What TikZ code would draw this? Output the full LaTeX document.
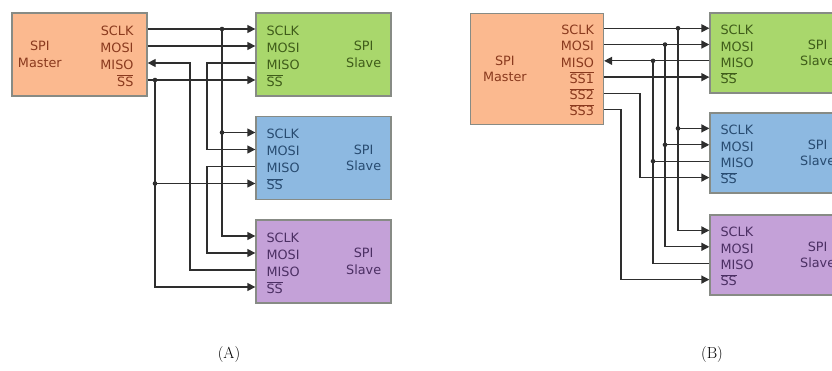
\documentclass[tikz,border=0pt]{standalone}
\usepackage{fontspec}
\setsansfont{DejaVu Sans}
\usepackage{xcolor}
\usetikzlibrary{arrows.meta,positioning,calc}
\definecolor{MasterFill}{HTML}{FBB98F}
\definecolor{MasterText}{HTML}{8A3A1E}
\definecolor{GreenFill}{HTML}{A9D76C}
\definecolor{GreenText}{HTML}{3F5C1A}
\definecolor{BlueFill}{HTML}{8DB9E1}
\definecolor{BlueText}{HTML}{284B70}
\definecolor{PurpleFill}{HTML}{C4A1D8}
\definecolor{PurpleText}{HTML}{4B2F63}
\definecolor{BoxBorder}{HTML}{878B85}
\definecolor{Wire}{HTML}{2E2E2E}
% active-low select line
\newcommand{\ssbar}[1]{$\overline{\mbox{#1}}$}

\begin{document}
\begin{tikzpicture}[
  x=1pt, y=-1pt,
  unit/.style={
    draw=BoxBorder, line width=1.3pt, minimum width=135pt,
    minimum height=83pt, inner sep=0pt
  },
  pin/.style={
    font=\sffamily\fontsize{12.8}{14}\selectfont, inner sep=0pt,
    text height=12.5pt, text depth=0pt
  },
  title/.style={
    font=\sffamily\fontsize{12.8}{16.5}\selectfont, align=center, inner sep=0pt
  },
  caption/.style={font=\fontsize{16}{16}\selectfont, inner sep=0pt},
  wire/.style={draw=Wire, line width=1.3pt},
  sig/.style={wire, -{Triangle[length=8pt,width=8pt]}},
  tap/.style={circle, fill=Wire, inner sep=0pt, minimum size=4.6pt}
]
\useasboundingbox (0,0) rectangle (832,371);
\clip (0,0) rectangle (832,371);

% masters
\node[unit, fill=MasterFill] (mA) at (79.5,54.5) {};
\node[title, text=MasterText] at ($(mA.west)+(28.5,0)$) {SPI\\Master};
\foreach \p/\txt/\dy in {sclk/SCLK/-25.5, mosi/MOSI/-8.5, miso/MISO/8.5,
    ss/{\ssbar{SS}}/25.5}
  \node[pin, text=MasterText, anchor=east] (mA-\p) at ($(mA.east)+(-14,\dy)$) {\txt};

\node[unit, fill=MasterFill, minimum width=133pt, minimum height=111pt]
  (mB) at (537,69) {};
\node[title, text=MasterText] at ($(mB.west)+(35,0)$) {SPI\\Master};
\foreach \p/\txt/\dy in {sclk/SCLK/-40.75, mosi/MOSI/-24.45, miso/MISO/-8.15,
    ss1/{\ssbar{SS1}}/8.15, ss2/{\ssbar{SS2}}/24.45, ss3/{\ssbar{SS3}}/40.75}
  \node[pin, text=MasterText, anchor=east] (mB-\p) at ($(mB.east)+(-10,\dy)$) {\txt};

% slaves
\foreach \u/\px/\py/\h/\col in {sA1/323.5/54.5/83/Green, sA2/323.5/158/83/Blue,
    sA3/323.5/261.5/83/Purple, sB1/777.5/53/80/Green, sB2/777.5/153/80/Blue,
    sB3/777.5/255/80/Purple} {
  \node[unit, fill=\col Fill, minimum height=\h pt] (\u) at (\px,\py) {};
  \node[title, text=\col Text] at ($(\u.east)+(-28,0)$) {SPI\\Slave};
  \foreach \p/\txt/\dy in {sclk/SCLK/-25.5, mosi/MOSI/-8.5, miso/MISO/8.5,
      ss/{\ssbar{SS}}/25.5}
    \node[pin, text=\col Text, anchor=west] (\u-\p) at ($(\u.west)+(11,\dy*\h/83)$) {\txt};
}

% (A) daisy chain
\coordinate (clkA) at (222,0);
\coordinate (chainA) at (207,0);
\coordinate (retA) at (190,0);
\coordinate (selA) at (155,0);
\draw[sig] (mA.east |- mA-sclk) -- (sA1.west |- mA-sclk);
\draw[sig] (clkA |- mA-sclk) |- (sA3.west |- sA3-sclk);
\draw[sig] (clkA |- sA2-sclk) -- (sA2.west |- sA2-sclk);
\draw[sig] (mA.east |- mA-mosi) -- (sA1.west |- mA-mosi);
\draw[sig] (sA1.west |- sA1-miso) -| (chainA |- sA2-mosi) -- (sA2.west |- sA2-mosi);
\draw[sig] (sA2.west |- sA2-miso) -| (chainA |- sA3-mosi) -- (sA3.west |- sA3-mosi);
\draw[sig] (sA3.west |- sA3-miso) -| (retA |- mA-miso) -- (mA.east |- mA-miso);
\draw[sig] (mA.east |- mA-ss) -- (sA1.west |- mA-ss);
\draw[sig] (selA |- mA-ss) |- (sA3.west |- sA3-ss);
\draw[sig] (selA |- sA2-ss) -- (sA2.west |- sA2-ss);
\node[tap] at (clkA |- mA-sclk) {};
\node[tap] at (clkA |- sA2-sclk) {};
\node[tap] at (selA |- mA-ss) {};
\node[tap] at (selA |- sA2-ss) {};

% (B) independent selects
\coordinate (clkB) at (678,0);
\coordinate (mosiB) at (665,0);
\coordinate (misoB) at (653,0);
\coordinate (selB2) at (640,0);
\coordinate (selB3) at (621,0);
\draw[sig] (mB.east |- mB-sclk) -- (sB1.west |- mB-sclk);
\draw[sig] (clkB |- mB-sclk) |- (sB3.west |- sB3-sclk);
\draw[sig] (clkB |- sB2-sclk) -- (sB2.west |- sB2-sclk);
\draw[sig] (mB.east |- mB-mosi) -- (sB1.west |- mB-mosi);
\draw[sig] (mosiB |- mB-mosi) |- (sB3.west |- sB3-mosi);
\draw[sig] (mosiB |- sB2-mosi) -- (sB2.west |- sB2-mosi);
\draw[sig] (sB1.west |- mB-miso) -- (mB.east |- mB-miso);
\draw[wire] (sB2.west |- sB2-miso) -- (misoB |- sB2-miso);
\draw[wire] (sB3.west |- sB3-miso) -| (misoB |- mB-miso);
\draw[sig] (mB.east |- mB-ss1) -- (sB1.west |- mB-ss1);
\draw[sig] (mB.east |- mB-ss2) -| (selB2 |- sB2-ss) -- (sB2.west |- sB2-ss);
\draw[sig] (mB.east |- mB-ss3) -| (selB3 |- sB3-ss) -- (sB3.west |- sB3-ss);
\node[tap] at (clkB |- mB-sclk) {};
\node[tap] at (clkB |- sB2-sclk) {};
\node[tap] at (mosiB |- mB-mosi) {};
\node[tap] at (mosiB |- sB2-mosi) {};
\node[tap] at (misoB |- mB-miso) {};
\node[tap] at (misoB |- sB2-miso) {};

\node[caption] (capA) at (229,355) {(A)};
\node[caption] (capB) at (712,355) {(B)};
\end{tikzpicture}
\end{document}
